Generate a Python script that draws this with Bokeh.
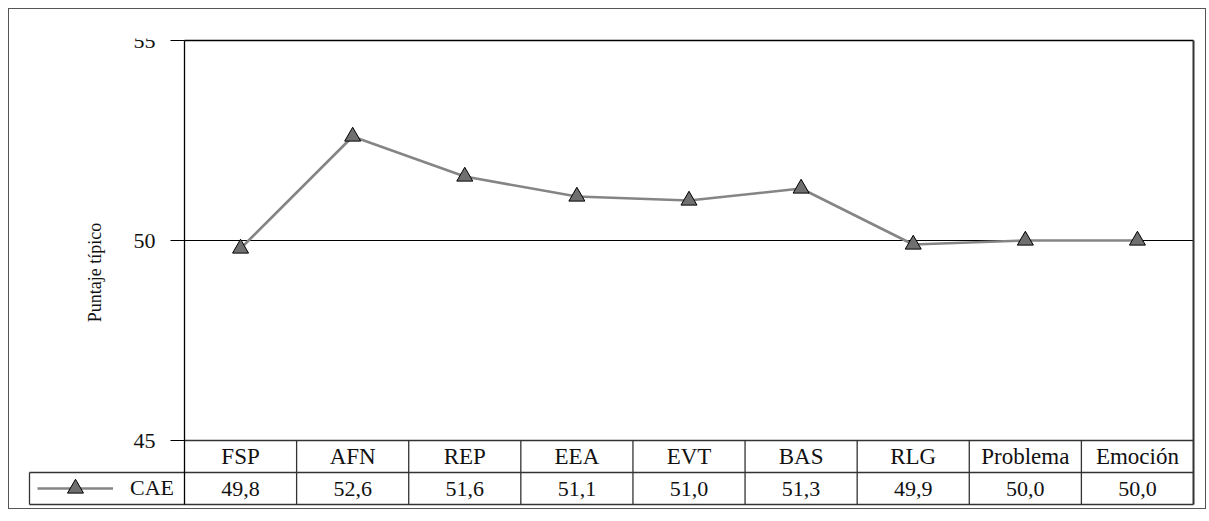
from bokeh.plotting import figure
from bokeh.models import (Range1d, FixedTicker, Legend, LegendItem, ColumnDataSource, LinearAxis)
from bokeh.core.properties import value
from bokeh.embed import file_html
from bokeh.resources import INLINE

# ---- data ----
categories = ["FSP", "AFN", "REP", "EEA", "EVT", "BAS", "RLG", "Problema", "Emoción"]
cae_values = [49.8, 52.6, 51.6, 51.1, 51.0, 51.3, 49.9, 50.0, 50.0]
series_name = "CAE"
y_ticks = [45, 50, 55]
y_label = "Puntaje típico"

FONT = "Liberation Serif"
LINE_DARK = "#333333"
TEXT = "#111111"

n = len(categories)
xs = [i + 0.5 for i in range(n)]

# ---- layout (pixels) ----
PLOT_W = 1009                 # width of plot area for n columns
PX_X = PLOT_W / n             # px per column
PX_Y = 40                     # px per y unit
LEGEND_W = 155                # legend cell width left of the table
PAD = 2                       # frame padding so edge lines are not clipped

y_min, y_max = 45, 55
row_h = 32 / PX_Y             # table row height in y units
y_floor = y_min - 2 * row_h
x_leg = -LEGEND_W / PX_X      # left edge of legend cell in x units

x_start = x_leg - PAD / PX_X
x_end = n + PAD / PX_X
y_start = y_floor - PAD / PX_Y
y_end = y_max + PAD / PX_Y

p = figure(width=1198, height=501, output_backend="svg", toolbar_location=None,
           x_range=Range1d(x_start, x_end), y_range=Range1d(y_start, y_end),
           x_axis_location=None, y_axis_location=None,
           min_border_left=18, min_border_right=12, min_border_top=29,
           min_border_bottom=4)
p.styles = {"border": "1px solid #555555", "margin-left": "8px", "margin-top": "8px"}
p.background_fill_color = "white"
p.border_fill_color = "white"
p.outline_line_color = None
p.xgrid.visible = False
p.ygrid.visible = False

# y axis fixed at the plot's left edge
ax = LinearAxis(fixed_location=0, bounds=(y_floor, y_max))
ax.ticker = FixedTicker(ticks=y_ticks)
ax.axis_label = y_label
ax.axis_label_text_font = FONT
ax.axis_label_text_font_size = "18px"
ax.axis_label_text_font_style = "normal"
ax.axis_label_text_color = TEXT
ax.axis_label_standoff = 26
ax.major_label_text_font = FONT
ax.major_label_text_font_size = "22px"
ax.major_label_text_color = TEXT
ax.major_label_standoff = 15
ax.major_tick_out = 14
ax.major_tick_in = 0
ax.minor_tick_out = 0
ax.minor_tick_in = 0
ax.axis_line_color = "black"
ax.axis_line_width = 1.3
ax.major_tick_line_color = "black"
p.add_layout(ax, "left")

# reference line at 50 and plot top / right borders
p.segment(x0=[0], x1=[n], y0=[50], y1=[50], line_color="black", line_width=1.2)
p.segment(x0=[0], x1=[n], y0=[y_max], y1=[y_max], line_color="black", line_width=1.3)
p.segment(x0=[n], x1=[n], y0=[y_floor], y1=[y_max], line_color=LINE_DARK, line_width=2)

# table lines
p.segment(x0=[0, x_leg, x_leg], x1=[n, n, n],
          y0=[y_min, y_min - row_h, y_floor], y1=[y_min, y_min - row_h, y_floor],
          line_color=LINE_DARK, line_width=1.3)
col_x = list(range(1, n))
p.segment(x0=col_x, x1=col_x, y0=[y_floor] * len(col_x), y1=[y_min] * len(col_x),
          line_color=LINE_DARK, line_width=1.3)
p.segment(x0=[x_leg], x1=[x_leg], y0=[y_floor], y1=[y_min - row_h],
          line_color=LINE_DARK, line_width=1.3)

# table text
src = ColumnDataSource(dict(
    x=xs,
    cat=categories,
    val=[f"{v:.1f}".replace(".", ",") for v in cae_values],
    yc=[y_min - row_h / 2] * n,
    yv=[y_min - 1.5 * row_h] * n,
))
p.text(x="x", y="yc", text="cat", source=src, text_align="center", text_baseline="middle",
       text_font=value(FONT), text_font_size="23px", text_color=TEXT)
p.text(x="x", y="yv", text="val", source=src, text_align="center", text_baseline="middle",
       text_font=value(FONT), text_font_size="22px", text_color=TEXT)

# series
line_r = p.line(xs, cae_values, line_color="#858585", line_width=2.6)
mark_r = p.scatter(xs, cae_values, marker="triangle", size=16, fill_color="#6f6f6f",
                   line_color="black", line_width=1)

# legend cell (glyph box tall enough that the legend marker has the same size as the plot's)
legend = Legend(items=[LegendItem(label=series_name, renderers=[line_r, mark_r])],
                location=(10, PAD - 4), padding=0, margin=0, spacing=0,
                glyph_width=76, glyph_height=40, label_height=40, label_standoff=17,
                label_text_font=FONT, label_text_font_size="22px", label_text_color=TEXT,
                border_line_color=None, background_fill_alpha=0.0)
p.add_layout(legend)

open("out.html", "w").write(file_html(p, INLINE))
